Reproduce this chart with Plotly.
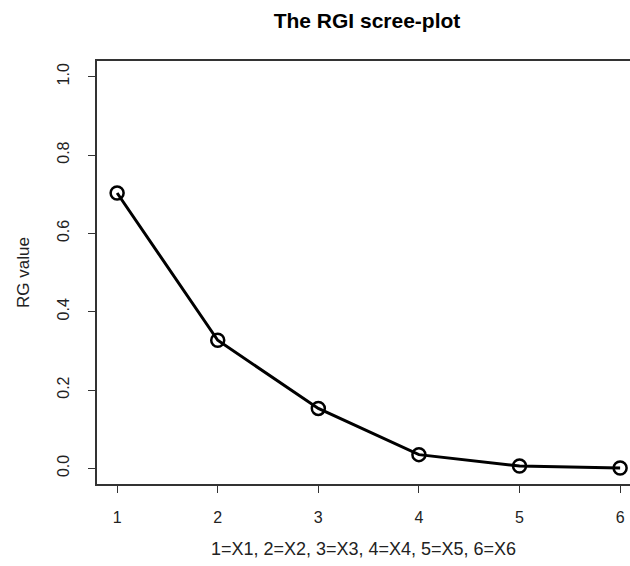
import plotly.graph_objects as go

# Scree-plot data: RG value for each variable index
components = [1, 2, 3, 4, 5, 6]
rg_values = [0.703, 0.327, 0.153, 0.035, 0.006, 0.001]
x_ticks = [1, 2, 3, 4, 5, 6]
y_ticks = [0.0, 0.2, 0.4, 0.6, 0.8, 1.0]
y_tick_text = ["0.0", "0.2", "0.4", "0.6", "0.8", "1.0"]

FONT = "Liberation Sans, Arial, sans-serif"
INK = "#222222"

fig = go.Figure()
fig.add_trace(go.Scatter(
    x=components,
    y=rg_values,
    mode="lines+markers",
    line=dict(color="black", width=3),
    marker=dict(symbol="circle-open", size=13, color="black",
                line=dict(color="black", width=2.5)),
    cliponaxis=False,
    showlegend=False,
))

fig.update_layout(
    width=630,
    height=566,
    margin=dict(l=97, r=0, t=61, b=82),
    paper_bgcolor="white",
    plot_bgcolor="white",
    font=dict(family=FONT, color=INK),
    title=dict(
        text="<b>The RGI scree-plot</b>",
        font=dict(size=21, color="black", family=FONT),
        x=367 / 630, xref="container", xanchor="center",
        y=1 - 21 / 566, yref="container", yanchor="middle",
    ),
    xaxis=dict(
        range=[0.8, 0.8 + 533 / 100.6],
        tickvals=x_ticks,
        ticktext=[str(v) for v in x_ticks],
        ticks="outside", ticklen=7, tickwidth=1, tickcolor="#333",
        ticklabelstandoff=11,
        tickfont=dict(size=16, color=INK),
        showline=True, linecolor="#333", linewidth=1.5, mirror=True,
        showgrid=False, zeroline=False,
        title=dict(text="1=X1, 2=X2, 3=X3, 4=X4, 5=X5, 6=X6",
                   font=dict(size=18, color=INK), standoff=17),
        automargin=False,
    ),
    yaxis=dict(
        range=[-0.04, 1.04],
        tickvals=y_ticks,
        ticktext=y_tick_text,
        tickangle=-90,
        ticks="outside", ticklen=7, tickwidth=1, tickcolor="#333",
        ticklabelstandoff=13,
        tickfont=dict(size=16, color=INK),
        showline=True, linecolor="#333", linewidth=1.5, mirror=False,
        showgrid=False, zeroline=False,
        title=dict(text="RG value", font=dict(size=17, color=INK), standoff=21),
        automargin=False,
    ),
)

fig.write_html("out.html")
